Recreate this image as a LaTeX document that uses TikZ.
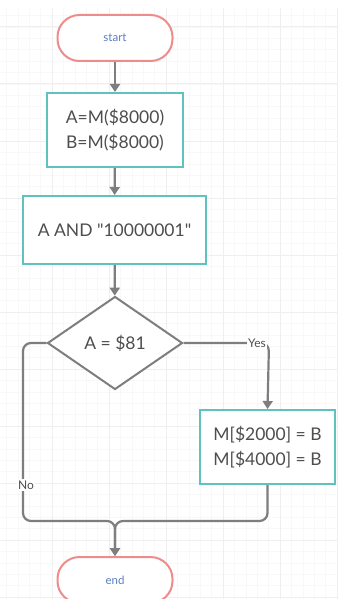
\documentclass[tikz,border=0pt]{standalone}
\usepackage{fontspec}
\setmainfont{Lato}[Ligatures=TeXOff]
\usetikzlibrary{arrows.meta,shapes.geometric}
\definecolor{teal1}{HTML}{5EC3BE}
\definecolor{pink1}{HTML}{EE8C8C}
\definecolor{line1}{HTML}{7E7E7E}
\definecolor{txt1}{HTML}{4E4E4E}
\definecolor{blue1}{HTML}{5A7EC2}
\definecolor{grid1}{HTML}{F8F8F8}
\definecolor{grid2}{HTML}{EFEFEF}
\tikzset{
  pill/.style={draw=pink1, line width=2pt, fill=white, rounded corners=22pt,
    minimum width=115pt, minimum height=46pt, inner sep=0pt,
    text=blue1, font=\fontsize{11.5}{13}\selectfont},
  procbox/.style={draw=teal1, line width=2pt, fill=white, inner sep=0pt,
    text=txt1, font=\fontsize{17.5}{25}\selectfont, align=center},
  decbox/.style={diamond, aspect=1.45, draw=line1, line width=2pt, fill=white,
    minimum width=135pt, minimum height=93pt, inner sep=0pt,
    text=txt1, font=\fontsize{17.5}{20}\selectfont},
  conn/.style={draw=line1, line width=2.2pt, rounded corners=8pt},
  arr/.style={conn, -{Triangle[width=10pt,length=8pt]}},
  lab/.style={fill=white, text=txt1, inner sep=1.5pt, font=\fontsize{12}{14}\selectfont}
}
\begin{document}
\begin{tikzpicture}[x=1pt,y=-1pt]
\useasboundingbox (0,0) rectangle (337,599);
\fill[white] (0,0) rectangle (337,599);
% faint background grid
\foreach \i in {0,...,30} {
  \draw[grid1, line width=0.6pt] ({-5+\i*11.4},8) -- ({-5+\i*11.4},599);
}
\foreach \j in {0,...,52} {
  \draw[grid1, line width=0.6pt] (0,{27+\j*11.4-11.4}) -- (337,{27+\j*11.4-11.4});
}
\foreach \i in {0,...,6} {
  \draw[grid2, line width=1pt] ({-5+\i*57},8) -- ({-5+\i*57},599);
}
\foreach \j in {0,...,10} {
  \draw[grid2, line width=1pt] (0,{27+\j*57}) -- (337,{27+\j*57});
}

\node[pill] (start) at (115,38) {start};
\node[procbox, minimum width=136pt, minimum height=74pt] (b1) at (115,130) {A=M(\$8000)\\B=M(\$8000)};
\node[procbox, minimum width=183pt, minimum height=68pt] (b2) at (114.5,230) {A AND "10000001"};
\node[decbox] (d) at (115,343) {A = \$81};
\node[procbox, minimum width=135pt, minimum height=74pt] (b3) at (267.5,447) {M[\$2000] = B\\M[\$4000] = B};
\node[pill] (end) at (115,580) {end};

\coordinate (nl) at (23,521);
\coordinate (m) at (115,521);
\coordinate (yr) at (269,343);

\draw[arr] (start) -- (b1);
\draw[arr] (b1) -- (b2);
\draw[arr] (b2) -- (d);
\draw[arr] (d.east) -- (yr) -- (b3.north);
\draw[arr] (d.west) -| (nl) -- (m) -- (end.north);
\draw[arr] (b3.south) |- (m) -- (end.north);

\node[lab] at (257,343) {Yes};
\node[lab] at (26,485) {No};
\end{tikzpicture}
\end{document}
